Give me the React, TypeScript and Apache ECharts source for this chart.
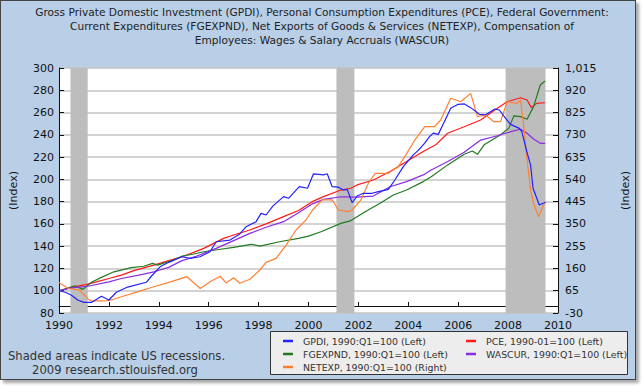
import React, { useEffect, useRef } from "react";
import * as echarts from "echarts";

const titleLines = [
  "Gross Private Domestic Investment (GPDI), Personal Consumption Expenditures (PCE), Federal Government:",
  "Current Expenditures (FGEXPND), Net Exports of Goods & Services (NETEXP), Compensation of",
  "Employees: Wages & Salary Accruals (WASCUR)",
];
const footerLines = ["Shaded areas indicate US recessions.", "2009 research.stlouisfed.org"];
const rightTickValues = [-30, 65, 160, 255, 350, 445, 540, 635, 730, 825, 920, 1015];
const recessions: [number, number][] = [
  [1990.46, 1991.15],
  [2001.12, 2001.84],
  [2007.9, 2009.5],
];

const gpdiYears = [1990.0, 1990.25, 1990.5, 1990.75, 1991.0, 1991.3, 1991.7, 1992.0, 1992.3, 1992.75, 1993.5, 1993.7, 1994.05, 1994.4, 1994.93, 1995.25, 1995.65, 1996.05, 1996.3, 1996.85, 1997.25, 1997.5, 1997.9, 1998.1, 1998.3, 1998.57, 1999.0, 1999.2, 1999.63, 1999.96, 2000.2, 2000.6, 2000.75, 2000.95, 2001.2, 2001.4, 2001.55, 2001.75, 2001.95, 2002.2, 2002.55, 2002.8, 2003.2, 2003.46, 2003.8, 2004.2, 2004.4, 2004.65, 2004.85, 2005.0, 2005.2, 2005.45, 2005.7, 2006.0, 2006.25, 2006.5, 2006.85, 2007.1, 2007.45, 2007.65, 2007.9, 2008.1, 2008.45, 2008.55, 2008.75, 2008.9, 2009.0, 2009.25, 2009.5];
const gpdiValues = [100, 98.6, 96, 91.7, 89.5, 89.5, 95, 91.7, 98.6, 103.3, 107.6, 113, 121.5, 125.5, 130.5, 129, 130.5, 135, 144, 145.5, 151, 157.5, 162, 169.5, 168, 176, 184.5, 183, 193.4, 192, 205, 204, 205, 193.4, 193, 190.4, 191, 179, 185, 187.5, 187.5, 189, 191, 199.4, 211.4, 222, 226, 232.4, 238.3, 241.5, 240.4, 252, 263.8, 267.4, 267.7, 264.4, 258.4, 258, 263, 262.3, 254.8, 249.4, 245.8, 242.8, 224.8, 213, 192, 177, 179.4];

const pceYears = [1990.0, 1990.5, 1991.16, 1991.5, 1992.0, 1992.5, 1993.0, 1993.8, 1994.4, 1995.0, 1995.8, 1996.6, 1997.0, 1997.65, 1998.3, 1999.0, 1999.6, 2000.15, 2000.6, 2001.3, 2001.7, 2001.95, 2002.6, 2003.27, 2003.93, 2004.6, 2005.1, 2005.58, 2006.24, 2006.9, 2007.57, 2007.96, 2008.5, 2008.76, 2008.93, 2009.15, 2009.48];
const pceValues = [100, 103, 106, 108, 111, 114, 118, 123, 127, 131, 138, 147, 150, 154.5, 160, 166.5, 172, 180, 184.5, 190.4, 192, 195, 199.4, 207, 216, 225, 231, 241.4, 247.3, 253.3, 263.8, 269.7, 273.3, 271.3, 264.4, 268.3, 268.8];

const fgexpndYears = [1990.0, 1990.3, 1990.63, 1990.96, 1991.3, 1991.7, 1992.2, 1992.9, 1993.4, 1993.75, 1993.95, 1994.47, 1994.93, 1995.4, 1995.8, 1996.4, 1997.0, 1997.7, 1998.05, 1998.84, 1999.6, 2000.0, 2000.5, 2001.3, 2001.7, 2002.27, 2002.87, 2003.4, 2003.93, 2004.6, 2004.92, 2005.58, 2006.24, 2006.57, 2006.77, 2007.04, 2007.7, 2008.03, 2008.23, 2008.5, 2008.76, 2009.02, 2009.29, 2009.48];
const fgexpndValues = [100, 102, 104.5, 101.2, 107.6, 112, 117, 120.7, 122, 124.6, 123, 126.7, 131, 133, 135, 137, 139, 141.7, 140, 144, 147, 149, 153, 160.5, 163, 171, 178.5, 186, 190.4, 198, 202.4, 213, 222.5, 225.5, 222.5, 231, 240, 246, 257, 256.3, 254, 265.3, 284.7, 288.3];

const wascurYears = [1990.0, 1990.5, 1991.16, 1992.0, 1992.5, 1993.2, 1993.8, 1994.4, 1994.93, 1995.5, 1996.3, 1997.0, 1997.65, 1998.3, 1999.0, 1999.6, 2000.16, 2000.6, 2001.3, 2001.95, 2002.6, 2003.27, 2003.93, 2004.6, 2004.92, 2005.58, 2006.24, 2006.9, 2007.57, 2008.1, 2008.5, 2008.76, 2009.02, 2009.29, 2009.48];
const wascurValues = [100, 102.5, 104, 108, 111, 114, 117, 121, 127, 131, 138, 145, 151.5, 157, 162, 170, 178, 182, 184.4, 184, 185, 193.4, 198, 204, 208.4, 216, 224.3, 235.3, 239.2, 242.8, 245, 241.4, 236.3, 232.4, 232.4];

const netexpYears = [1990.0, 1990.37, 1990.83, 1991.16, 1991.3, 1991.83, 1992.1, 1992.5, 1993.15, 1993.8, 1994.47, 1995.13, 1995.66, 1996.06, 1996.46, 1996.7, 1997.0, 1997.25, 1997.65, 1998.05, 1998.3, 1998.7, 1999.1, 1999.5, 1999.9, 2000.16, 2000.55, 2000.95, 2001.2, 2001.6, 2001.75, 2002.1, 2002.4, 2002.67, 2003.2, 2003.6, 2003.86, 2004.26, 2004.66, 2005.05, 2005.3, 2005.7, 2006.1, 2006.5, 2006.77, 2007.1, 2007.43, 2007.7, 2007.96, 2008.36, 2008.5, 2008.63, 2008.76, 2008.9, 2009.02, 2009.22, 2009.48];
const netexpValues = [100, 74.5, 67.9, 29.9, 21.3, 21.3, 25.6, 39.4, 60.3, 82.1, 103, 124.9, 74.5, 103, 126.8, 98.3, 120.6, 96.8, 113.8, 153.4, 186, 202.8, 259.8, 323.9, 366.6, 409.4, 452.1, 452.1, 409.4, 402.3, 409.4, 452.1, 523.4, 565.7, 565.7, 594.2, 636.9, 707.7, 764.7, 764.7, 793.2, 885.8, 871.1, 906.7, 807.4, 814.6, 786, 786, 871.1, 864.4, 878.7, 764.7, 622.7, 494.4, 437.9, 380.9, 445];

const seriesDefs = [
  { name: "PCE, 1990-01=100 (Left)", years: pceYears, values: pceValues, color: "#FF1A1A", axis: 0 },
  { name: "FGEXPND, 1990:Q1=100 (Left)", years: fgexpndYears, values: fgexpndValues, color: "#217A21", axis: 0 },
  { name: "WASCUR, 1990:Q1=100 (Left)", years: wascurYears, values: wascurValues, color: "#8A2BE2", axis: 0 },
  { name: "NETEXP, 1990:Q1=100 (Right)", years: netexpYears, values: netexpValues, color: "#FF8033", axis: 1 },
  { name: "GPDI, 1990:Q1=100 (Left)", years: gpdiYears, values: gpdiValues, color: "#2222FF", axis: 0 },
];
const legendCol1 = ["GPDI, 1990:Q1=100 (Left)", "FGEXPND, 1990:Q1=100 (Left)", "NETEXP, 1990:Q1=100 (Right)"];
const legendCol2 = ["PCE, 1990-01=100 (Left)", "WASCUR, 1990:Q1=100 (Left)"];

const FONT = "'DejaVu Sans', Verdana, sans-serif";

export default function App() {
  const ref = useRef<HTMLDivElement>(null);
  useEffect(() => {
    if (!ref.current) return;
    const chart = echarts.init(ref.current, undefined, { renderer: "svg" });
    const legendCommon = {
      orient: "vertical" as const,
      top: 330,
      itemGap: 1,
      itemWidth: 10,
      itemHeight: 2.5,
      icon: "rect",
      selectedMode: false,
      textStyle: { fontFamily: FONT, fontSize: 9.4, color: "#333", lineHeight: 12, padding: [0, 0, 0, 5] },
    };
    chart.setOption({
      animation: false,
      textStyle: { fontFamily: FONT },
      grid: { left: 54, top: 68, width: 504, height: 245, show: true, backgroundColor: "#fff", borderWidth: 0 },
      xAxis: {
        type: "value",
        min: 1990,
        max: 2010,
        interval: 2,
        axisLine: { lineStyle: { color: "#111", width: 1 } },
        axisTick: { inside: true, length: 4, lineStyle: { color: "#111" } },
        axisLabel: { formatter: (v: number) => String(v), color: "#111", fontSize: 11, margin: 7, fontFamily: FONT },
        splitLine: { show: false },
      },
      yAxis: [
        {
          type: "value",
          min: 80,
          max: 300,
          interval: 20,
          name: "(Index)",
          nameLocation: "middle",
          nameRotate: 90,
          nameGap: 40,
          nameTextStyle: { color: "#111", fontSize: 11, fontFamily: FONT },
          axisLine: { show: true, lineStyle: { color: "#111" } },
          axisTick: { show: true, inside: true, length: 5, lineStyle: { color: "#111" } },
          axisLabel: { color: "#111", fontSize: 11, margin: 5, fontFamily: FONT },
          splitLine: { show: true, lineStyle: { color: "#C4C4C4", width: 1.5 } },
        },
        {
          type: "value",
          min: -30,
          max: 1015,
          position: "right",
          name: "(Index)",
          nameLocation: "middle",
          nameRotate: 90,
          nameGap: 62,
          nameTextStyle: { color: "#111", fontSize: 11, fontFamily: FONT },
          axisLine: { show: true, lineStyle: { color: "#111" } },
          axisTick: { show: true, inside: true, length: 5, customValues: rightTickValues, lineStyle: { color: "#111" } },
          axisLabel: {
            color: "#111",
            fontSize: 11,
            margin: 7,
            fontFamily: FONT,
            customValues: rightTickValues,
            formatter: (v: number) => v.toLocaleString("en-US"),
          },
          splitLine: { show: false },
        },
      ],
      legend: [
        { ...legendCommon, left: 278, data: legendCol1 },
        { ...legendCommon, left: 461, data: legendCol2 },
      ],
      graphic: [
        {
          type: "rect",
          z: 1,
          shape: { x: 270.5, y: 331.5, width: 357, height: 43 },
          style: { fill: "#EDEDED", stroke: "#333", lineWidth: 1 },
        },
        ...titleLines.map((t, i) => ({
          type: "text",
          x: 322,
          y: 12 + i * 14,
          style: { text: t, fill: "#222", font: `10.6px ${FONT}`, align: "center", verticalAlign: "middle" },
        })),
        {
          type: "text",
          x: 8,
          y: 356,
          style: { text: footerLines[0], fill: "#333", font: `11.6px ${FONT}`, align: "left", verticalAlign: "middle" },
        },
        {
          type: "text",
          x: 115,
          y: 370,
          style: { text: footerLines[1], fill: "#333", font: `11.6px ${FONT}`, align: "center", verticalAlign: "middle" },
        },
      ],
      series: [
        {
          type: "line",
          name: "recessions",
          data: [],
          z: 1,
          markArea: {
            silent: true,
            itemStyle: { color: "#BDBDBD" },
            data: recessions.map(([a, b]) => [{ xAxis: a }, { xAxis: b }]),
          },
        },
        ...seriesDefs.map((s, i) => ({
          type: "line",
          name: s.name,
          yAxisIndex: s.axis,
          data: s.years.map((y, j) => [y, s.values[j]]),
          symbol: "none",
          z: 3 + i,
          color: s.color,
          lineStyle: { color: s.color, width: 1.2 },
        })),
      ],
    });
    return () => chart.dispose();
  }, []);
  return (
    <div style={{ position: "fixed", left: 0, top: 0, width: 644, height: 388, background: "#fff" }}>
      <div
        style={{
          position: "absolute",
          left: 0,
          top: 0,
          width: 634,
          height: 378,
          background: "#B8CFE7",
          border: "1px solid #444",
          boxShadow: "3px 3px 3px rgba(0,0,0,0.35)",
        }}
      />
      <div ref={ref} style={{ position: "absolute", left: 0, top: 0, width: 644, height: 388 }} />
    </div>
  );
}
